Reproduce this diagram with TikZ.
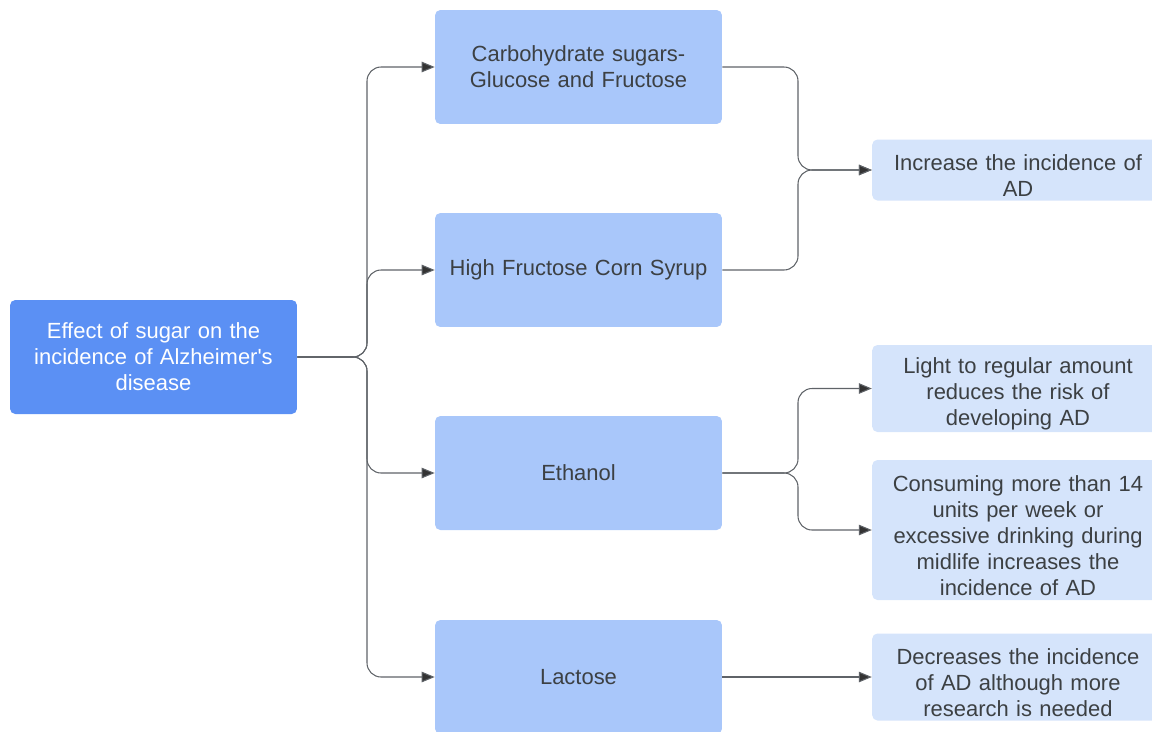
\documentclass[tikz,border=0pt]{standalone}
\usepackage{fontspec}
\setmainfont{Liberation Sans}
\usetikzlibrary{arrows.meta}

\definecolor{rootblue}{HTML}{5B90F4}
\definecolor{midblue}{HTML}{A9C7FA}
\definecolor{paleblue}{HTML}{D5E4FB}
\definecolor{txtgray}{HTML}{3C4043}
\definecolor{linegray}{HTML}{5F6368}

\tikzset{
    rootbox/.style={fill=rootblue, text=white, rounded corners=3pt, align=center,
        minimum width=5.74cm, minimum height=2.28cm, text width=5.5cm},
    catbox/.style={fill=midblue, text=txtgray, rounded corners=3pt, align=center,
        minimum width=5.74cm, minimum height=2.28cm, text width=5.5cm},
    effbox/.style={fill=paleblue, text=txtgray, rounded corners=3pt, align=center,
        minimum width=5.8cm, text width=5.6cm, inner ysep=0pt,
        execute at begin node={\rule{0pt}{15pt}}},
    conn/.style={draw=linegray, line width=0.6pt, rounded corners=8pt,
        -{Triangle[length=2.6mm,width=2.1mm,fill=black!80]}}
}

\begin{document}
\begin{tikzpicture}[x=0.02cm, y=-0.02cm, font=\fontsize{12.5}{14.8}\selectfont]
    \useasboundingbox (0,0) rectangle (1152,731);

    % Root
    \node[rootbox] (root) at (153.5,357) {Effect of sugar on the\\ incidence of Alzheimer\textquotesingle s\\ disease};

    % Sugars
    \node[catbox] (carbo) at (578.5,67) {Carbohydrate sugars-\\ Glucose and Fructose};
    \node[catbox] (hfcs) at (578.5,270) {High Fructose Corn Syrup};
    \node[catbox] (eth) at (578.5,473) {Ethanol};
    \node[catbox] (lact) at (578.5,677) {Lactose};

    % Effects
    \node[effbox, minimum height=1.22cm] (incr) at (1018,170) {Increase the incidence of\\ AD};
    \node[effbox, minimum height=1.74cm] (light) at (1018,388.5) {Light to regular amount\\ reduces the risk of\\ developing AD};
    \node[effbox, minimum height=2.8cm] (cons) at (1018,530) {Consuming more than 14\\ units per week or\\ excessive drinking during\\ midlife increases the\\ incidence of AD};
    \node[effbox, minimum height=1.74cm] (decr) at (1018,677) {Decreases the incidence\\ of AD although more\\ research is needed};

    % Junctions
    \coordinate (trunk) at (367,357);
    \coordinate (join1) at (798,170);
    \coordinate (join2) at (798,473);

    % Root to sugars
    \foreach \s in {carbo,hfcs,eth,lact} {
        \draw[conn] (root.east) -- (trunk) |- (\s.west);
    }

    % Sugars to effects
    \draw[conn] (carbo.east) -| (join1) -- (incr.west);
    \draw[conn] (hfcs.east) -| (join1) -- (incr.west);
    \draw[conn] (eth.east) -- (join2) |- (light.west);
    \draw[conn] (eth.east) -- (join2) |- (cons.west);
    \draw[conn] (lact.east) -- (decr.west);
\end{tikzpicture}
\end{document}
